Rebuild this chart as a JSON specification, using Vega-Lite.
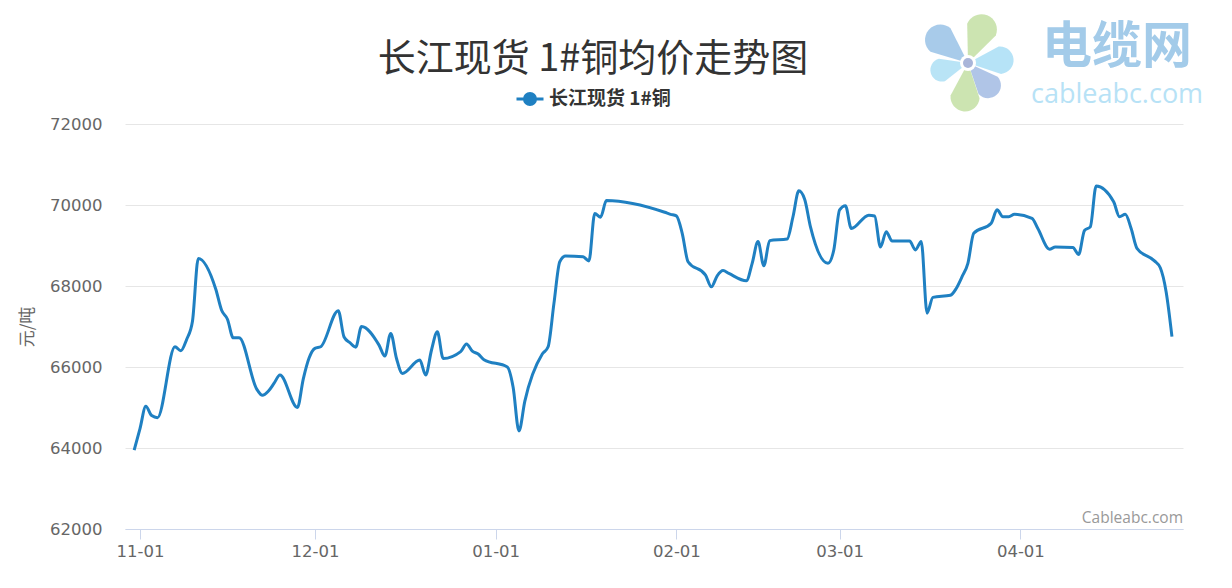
{
  "$schema": "https://vega.github.io/schema/vega-lite/v6.json",
  "autosize": "none",
  "width": 1058,
  "height": 405,
  "padding": {"left": 125, "top": 124, "right": 49, "bottom": 59},
  "background": "#ffffff",
  "title": {
    "text": "长江现货 1#铜均价走势图",
    "font": "Noto Sans CJK SC",
    "fontSize": 38,
    "fontWeight": "normal",
    "color": "#333333",
    "anchor": "middle",
    "frame": "group",
    "dx": -61,
    "offset": -65
  },
  "config": {
    "view": {"stroke": null},
    "axis": {
      "labelFont": "DejaVu Sans",
      "labelFontSize": 16.5,
      "labelColor": "#666666",
      "titleFont": "Noto Sans CJK SC",
      "titleFontWeight": "normal",
      "titleColor": "#666666"
    }
  },
  "layer": [
    {
      "data": {
        "values": [
          {"date": "2022-10-31", "price": 63950},
          {"date": "2022-11-01", "price": 64480},
          {"date": "2022-11-02", "price": 65030},
          {"date": "2022-11-03", "price": 64800},
          {"date": "2022-11-04", "price": 64750},
          {"date": "2022-11-07", "price": 66500},
          {"date": "2022-11-08", "price": 66400},
          {"date": "2022-11-09", "price": 66680},
          {"date": "2022-11-10", "price": 67130},
          {"date": "2022-11-11", "price": 68680},
          {"date": "2022-11-14", "price": 67920},
          {"date": "2022-11-15", "price": 67400},
          {"date": "2022-11-16", "price": 67180},
          {"date": "2022-11-17", "price": 66720},
          {"date": "2022-11-18", "price": 66720},
          {"date": "2022-11-21", "price": 65460},
          {"date": "2022-11-22", "price": 65300},
          {"date": "2022-11-23", "price": 65400},
          {"date": "2022-11-24", "price": 65600},
          {"date": "2022-11-25", "price": 65800},
          {"date": "2022-11-28", "price": 65000},
          {"date": "2022-11-29", "price": 65700},
          {"date": "2022-11-30", "price": 66220},
          {"date": "2022-12-01", "price": 66460},
          {"date": "2022-12-02", "price": 66500},
          {"date": "2022-12-05", "price": 67390},
          {"date": "2022-12-06", "price": 66740},
          {"date": "2022-12-07", "price": 66600},
          {"date": "2022-12-08", "price": 66490},
          {"date": "2022-12-09", "price": 67000},
          {"date": "2022-12-12", "price": 66540},
          {"date": "2022-12-13", "price": 66270},
          {"date": "2022-12-14", "price": 66830},
          {"date": "2022-12-15", "price": 66210},
          {"date": "2022-12-16", "price": 65840},
          {"date": "2022-12-19", "price": 66170},
          {"date": "2022-12-20", "price": 65800},
          {"date": "2022-12-21", "price": 66420},
          {"date": "2022-12-22", "price": 66870},
          {"date": "2022-12-23", "price": 66210},
          {"date": "2022-12-26", "price": 66380},
          {"date": "2022-12-27", "price": 66570},
          {"date": "2022-12-28", "price": 66390},
          {"date": "2022-12-29", "price": 66320},
          {"date": "2022-12-30", "price": 66180},
          {"date": "2023-01-03", "price": 66000},
          {"date": "2023-01-04", "price": 65500},
          {"date": "2023-01-05", "price": 64420},
          {"date": "2023-01-06", "price": 65150},
          {"date": "2023-01-09", "price": 66320},
          {"date": "2023-01-10", "price": 66500},
          {"date": "2023-01-11", "price": 67570},
          {"date": "2023-01-12", "price": 68600},
          {"date": "2023-01-13", "price": 68740},
          {"date": "2023-01-16", "price": 68720},
          {"date": "2023-01-17", "price": 68620},
          {"date": "2023-01-18", "price": 69790},
          {"date": "2023-01-19", "price": 69700},
          {"date": "2023-01-20", "price": 70110},
          {"date": "2023-01-30", "price": 69820},
          {"date": "2023-01-31", "price": 69770},
          {"date": "2023-02-01", "price": 69730},
          {"date": "2023-02-02", "price": 69300},
          {"date": "2023-02-03", "price": 68600},
          {"date": "2023-02-06", "price": 68270},
          {"date": "2023-02-07", "price": 67980},
          {"date": "2023-02-08", "price": 68250},
          {"date": "2023-02-09", "price": 68380},
          {"date": "2023-02-10", "price": 68310},
          {"date": "2023-02-13", "price": 68130},
          {"date": "2023-02-14", "price": 68560},
          {"date": "2023-02-15", "price": 69100},
          {"date": "2023-02-16", "price": 68500},
          {"date": "2023-02-17", "price": 69120},
          {"date": "2023-02-20", "price": 69160},
          {"date": "2023-02-21", "price": 69710},
          {"date": "2023-02-22", "price": 70350},
          {"date": "2023-02-23", "price": 70140},
          {"date": "2023-02-24", "price": 69460},
          {"date": "2023-02-27", "price": 68560},
          {"date": "2023-02-28", "price": 68890},
          {"date": "2023-03-01", "price": 69880},
          {"date": "2023-03-02", "price": 69980},
          {"date": "2023-03-03", "price": 69420},
          {"date": "2023-03-06", "price": 69750},
          {"date": "2023-03-07", "price": 69730},
          {"date": "2023-03-08", "price": 68960},
          {"date": "2023-03-09", "price": 69340},
          {"date": "2023-03-10", "price": 69110},
          {"date": "2023-03-13", "price": 69110},
          {"date": "2023-03-14", "price": 68890},
          {"date": "2023-03-15", "price": 69100},
          {"date": "2023-03-16", "price": 67330},
          {"date": "2023-03-17", "price": 67720},
          {"date": "2023-03-20", "price": 67770},
          {"date": "2023-03-21", "price": 67940},
          {"date": "2023-03-22", "price": 68230},
          {"date": "2023-03-23", "price": 68560},
          {"date": "2023-03-24", "price": 69300},
          {"date": "2023-03-27", "price": 69550},
          {"date": "2023-03-28", "price": 69880},
          {"date": "2023-03-29", "price": 69710},
          {"date": "2023-03-30", "price": 69710},
          {"date": "2023-03-31", "price": 69770},
          {"date": "2023-04-03", "price": 69670},
          {"date": "2023-04-04", "price": 69420},
          {"date": "2023-04-06", "price": 68910},
          {"date": "2023-04-07", "price": 68960},
          {"date": "2023-04-10", "price": 68950},
          {"date": "2023-04-11", "price": 68780},
          {"date": "2023-04-12", "price": 69370},
          {"date": "2023-04-13", "price": 69460},
          {"date": "2023-04-14", "price": 70470},
          {"date": "2023-04-17", "price": 70080},
          {"date": "2023-04-18", "price": 69710},
          {"date": "2023-04-19", "price": 69770},
          {"date": "2023-04-20", "price": 69420},
          {"date": "2023-04-21", "price": 68930},
          {"date": "2023-04-24", "price": 68620},
          {"date": "2023-04-25", "price": 68450},
          {"date": "2023-04-26", "price": 67860},
          {"date": "2023-04-27", "price": 66750}
        ]
      },
      "mark": {"type": "line", "strokeWidth": 3, "interpolate": "monotone"},
      "encoding": {
        "x": {
          "field": "date",
          "type": "temporal",
          "scale": {
            "type": "utc",
            "domain": [
              {"year": 2022, "month": 10, "date": 29, "hours": 10, "minutes": 15, "utc": true},
              {"year": 2023, "month": 4, "date": 28, "hours": 21, "minutes": 30, "utc": true}
            ]
          },
          "axis": {
            "title": null,
            "values": [
              {"year": 2022, "month": 11, "date": 1, "utc": true},
              {"year": 2022, "month": 12, "date": 1, "utc": true},
              {"year": 2023, "month": 1, "date": 1, "utc": true},
              {"year": 2023, "month": 2, "date": 1, "utc": true},
              {"year": 2023, "month": 3, "date": 1, "utc": true},
              {"year": 2023, "month": 4, "date": 1, "utc": true}
            ],
            "labelExpr": "utcFormat(datum.value, '%m-%d')",
            "grid": false,
            "domainColor": "#ccd6eb",
            "domainWidth": 1,
            "tickColor": "#ccd6eb",
            "tickSize": 10,
            "labelPadding": 4
          }
        },
        "y": {
          "field": "price",
          "type": "quantitative",
          "scale": {"domain": [62000, 72000], "nice": false, "zero": false},
          "axis": {
            "title": "元/吨",
            "titleFontSize": 17,
            "titlePadding": 13,
            "values": [62000, 64000, 66000, 68000, 70000, 72000],
            "format": "d",
            "domain": false,
            "ticks": false,
            "grid": true,
            "gridColor": "#e6e6e6",
            "gridWidth": 1,
            "labelPadding": 23
          }
        },
        "color": {
          "datum": "长江现货 1#铜",
          "scale": {"range": ["#1f80c2"]},
          "legend": {
            "orient": "none",
            "legendX": 390,
            "legendY": -40,
            "title": null,
            "padding": 0,
            "symbolType": "M-1,0L1,0M-0.41,0A0.41,0.41,0,1,0,0.41,0A0.41,0.41,0,1,0,-0.41,0Z",
            "symbolSize": 729,
            "symbolStrokeWidth": 3,
            "symbolFillColor": "#1f80c2",
            "symbolStrokeColor": "#1f80c2",
            "labelFont": "Noto Sans CJK SC",
            "labelFontSize": 19,
            "labelFontWeight": "bold",
            "labelColor": "#333333",
            "labelOffset": 4,
            "encode": {
              "symbols": {"update": {"fill": {"value": "#1f80c2"}, "stroke": {"value": "#1f80c2"}}}
            }
          }
        }
      }
    },
    {
      "data": {"values": [{"label": "Cableabc.com"}]},
      "mark": {"type": "text", "align": "right", "baseline": "middle", "font": "Open Sans", "fontSize": 15.5, "color": "#999999"},
      "encoding": {
        "text": {"field": "label"},
        "x": {"datum": {"year": 2023, "month": 4, "date": 28, "hours": 21, "minutes": 30, "utc": true}, "type": "temporal"},
        "y": {"datum": 62270, "type": "quantitative"}
      }
    },
    {
      "data": {"values": [{"label": "电缆网"}]},
      "mark": {"type": "text", "align": "center", "baseline": "middle", "font": "Noto Sans CJK SC", "fontWeight": "bold", "fontSize": 50, "color": "#a3cbe9"},
      "encoding": {
        "text": {"field": "label"},
        "x": {"datum": {"year": 2023, "month": 4, "date": 17, "hours": 14, "utc": true}, "type": "temporal"},
        "y": {"datum": 73880, "type": "quantitative"}
      }
    },
    {
      "data": {"values": [{"label": "cableabc.com"}]},
      "mark": {"type": "text", "align": "center", "baseline": "alphabetic", "font": "Open Sans", "fontSize": 27, "color": "#b7e2f6"},
      "encoding": {
        "text": {"field": "label"},
        "x": {"datum": {"year": 2023, "month": 4, "date": 17, "hours": 14, "utc": true}, "type": "temporal"},
        "y": {"datum": 72520, "type": "quantitative"}
      }
    },
    {
      "data": {"values": [{}]},
      "encoding": {
        "x": {"datum": {"year": 2023, "month": 3, "date": 23, "hours": 0, "minutes": 30, "utc": true}, "type": "temporal"},
        "y": {"datum": 73506, "type": "quantitative"}
      },
      "layer": [
        {"mark": {"type": "point", "shape": "M0,0L-0.3,-0.7A0.3,0.3,0,1,1,0.3,-0.7Z", "filled": true, "size": 10580, "angle": 310, "color": "#9fc5e8", "opacity": 0.9, "strokeWidth": 0}},
        {"mark": {"type": "point", "shape": "M0,0L-0.3,-0.7A0.3,0.3,0,1,1,0.3,-0.7Z", "filled": true, "size": 10580, "angle": 22, "color": "#c7e1a9", "opacity": 0.9, "strokeWidth": 0}},
        {"mark": {"type": "point", "shape": "M0,0L-0.3,-0.7A0.3,0.3,0,1,1,0.3,-0.7Z", "filled": true, "size": 8360, "angle": 85, "color": "#aee0f6", "opacity": 0.9, "strokeWidth": 0}},
        {"mark": {"type": "point", "shape": "M0,0L-0.3,-0.7A0.3,0.3,0,1,1,0.3,-0.7Z", "filled": true, "size": 7350, "angle": 138, "color": "#a7bfe4", "opacity": 0.9, "strokeWidth": 0}},
        {"mark": {"type": "point", "shape": "M0,0L-0.3,-0.7A0.3,0.3,0,1,1,0.3,-0.7Z", "filled": true, "size": 9440, "angle": 185, "color": "#c7e1a9", "opacity": 0.9, "strokeWidth": 0}},
        {"mark": {"type": "point", "shape": "M0,0L-0.3,-0.7A0.3,0.3,0,1,1,0.3,-0.7Z", "filled": true, "size": 5950, "angle": 255, "color": "#b1e1f5", "opacity": 0.9, "strokeWidth": 0}},
        {"mark": {"type": "point", "shape": "circle", "filled": true, "size": 256, "color": "#ffffff", "opacity": 1}},
        {"mark": {"type": "point", "shape": "circle", "filled": true, "size": 100, "color": "#a9b5d9", "opacity": 1}}
      ]
    }
  ]
}
